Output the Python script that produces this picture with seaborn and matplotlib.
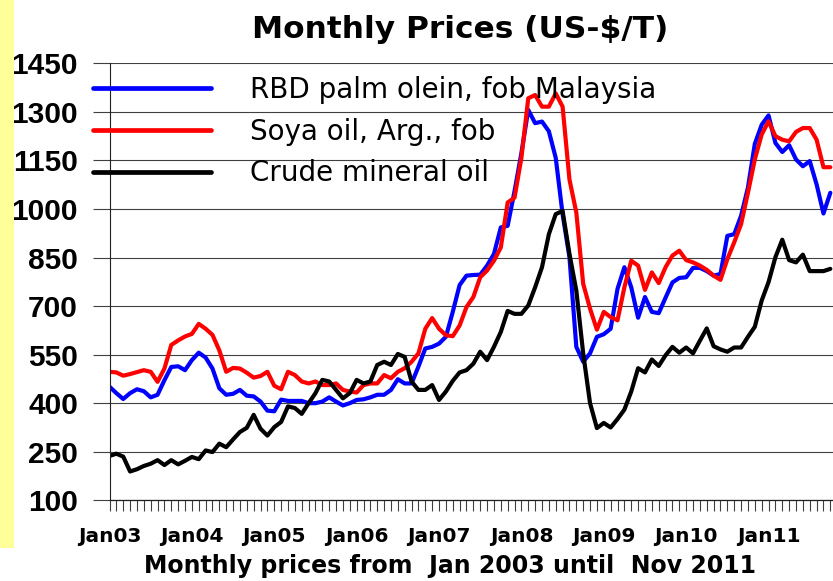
import matplotlib
matplotlib.use("Agg")
import matplotlib.pyplot as plt
import seaborn as sns
import pandas as pd
from matplotlib.patches import Rectangle

# ---- data (monthly, Jan 2003 onward) ----
series_names = ["RBD palm olein, fob Malaysia", "Soya oil, Arg., fob", "Crude mineral oil"]
series_colors = ["#0000FF", "#FF0000", "#000000"]

palm = [451, 431, 413, 431, 443, 437, 418, 426, 471, 512, 514, 502,
        533, 556, 541, 507, 446, 426, 429, 441, 423, 421, 405, 377,
        375, 411, 407, 407, 407, 400, 400, 405, 418, 405, 393, 400,
        410, 412, 418, 426, 426, 441, 474, 461, 461, 513, 569, 574,
        584, 605, 682, 765, 794, 796, 797, 825, 861, 943, 948, 1055,
        1173, 1306, 1265, 1270, 1240, 1158, 984, 851, 574, 528, 554, 605,
        613, 630, 753, 820, 758, 664, 728, 682, 678, 726, 773, 787,
        789, 818, 818, 808, 794, 799, 917, 922, 979, 1066, 1201, 1260,
        1289, 1204, 1176, 1197, 1153, 1132, 1148, 1076, 986, 1050]

soy = [497, 495, 485, 490, 496, 502, 497, 466, 507, 580, 594, 606,
       614, 645, 630, 611, 563, 497, 509, 507, 494, 479, 484, 497,
       454, 443, 497, 487, 467, 461, 467, 456, 456, 461, 441, 436,
       433, 456, 461, 461, 487, 477, 497, 508, 528, 554, 630, 663,
       630, 610, 607, 640, 697, 728, 789, 810, 840, 881, 1020, 1035,
       1158, 1342, 1352, 1316, 1316, 1357, 1316, 1091, 989, 769, 692, 627,
       682, 666, 656, 758, 840, 825, 750, 804, 771, 820, 856, 871,
       842, 835, 825, 812, 794, 781, 845, 897, 953, 1050, 1153, 1230,
       1271, 1225, 1214, 1209, 1238, 1250, 1250, 1214, 1129, 1129]

crude = [237, 244, 235, 189, 196, 206, 213, 224, 209, 224, 211, 222,
         234, 227, 254, 249, 275, 264, 288, 311, 324, 364, 321, 300,
         326, 342, 390, 385, 367, 400, 431, 472, 467, 441, 415, 431,
         472, 461, 467, 518, 528, 518, 552, 543, 467, 441, 441, 456,
         410, 436, 469, 495, 502, 522, 559, 533, 574, 620, 685, 676,
         676, 702, 758, 820, 922, 984, 994, 861, 748, 554, 400, 323,
         339, 325, 351, 380, 436, 508, 495, 535, 515, 548, 574, 556,
         572, 554, 593, 631, 576, 566, 559, 572, 572, 605, 636, 717,
         774, 851, 905, 842, 835, 859, 808, 808, 808, 815]

year_labels = ["Jan03", "Jan04", "Jan05", "Jan06", "Jan07", "Jan08", "Jan09", "Jan10", "Jan11"]
y_ticks = [100, 250, 400, 550, 700, 850, 1000, 1150, 1300, 1450]

title_text = "Monthly Prices (US-$/T)"
xlabel_text = "Monthly prices from  Jan 2003 until  Nov 2011"

# ---- long-form table ----
rows = []
for name, vals in zip(series_names, [palm, soy, crude]):
    for i, v in enumerate(vals):
        rows.append({"month": i, "price": v, "series": name})
df = pd.DataFrame(rows)

sns.set_style("white")
plt.rcParams["font.family"] = ["DejaVu Sans"]
plt.rcParams["text.color"] = "black"
plt.rcParams["axes.labelcolor"] = "black"
plt.rcParams["xtick.color"] = "black"
plt.rcParams["ytick.color"] = "black"

W, H = 833, 581
fig = plt.figure(figsize=(W / 100, H / 100), dpi=100)
fig.patch.set_facecolor("white")

# yellow strip on the left
fig.patches.append(Rectangle((0, 1 - 548 / H), 14 / W, 548 / H,
                             transform=fig.transFigure, facecolor="#FFFF99",
                             edgecolor="none", zorder=0))

left_px, right_px = 109.5, 833
bottom_px, top_px = 500.3, 63.3
ax = fig.add_axes([left_px / W, (H - bottom_px) / H,
                   (right_px - left_px) / W, (bottom_px - top_px) / H])

sns.lineplot(data=df, x="month", y="price", hue="series",
             hue_order=series_names, palette=series_colors,
             linewidth=3.0, estimator=None, ax=ax, legend=False)

px_per_month = 6.865
ax.set_xlim(0, (right_px - left_px) / px_per_month)
ax.set_ylim(100, 1450)

# grid & spines
ax.set_yticks(y_ticks)
ax.yaxis.grid(True, color="#404040", linewidth=0.8)
ax.xaxis.grid(False)
for s in ["top", "right"]:
    ax.spines[s].set_visible(False)
ax.spines["left"].set_color("#202020")
ax.spines["left"].set_linewidth(0.8)
ax.spines["bottom"].set_color("#202020")
ax.spines["bottom"].set_linewidth(0.9)

ax.tick_params(axis="y", left=True, direction="out", length=12.2, width=0.8,
               color="#404040", labelcolor="black", pad=10.5)
for lbl in ax.get_yticklabels():
    lbl.set_fontfamily("Liberation Sans")
    lbl.set_fontweight("bold")
    lbl.set_fontsize(21.5)

n_months = len(palm)
ax.set_xticks([12 * k for k in range(len(year_labels))])
ax.set_xticks(list(range(n_months)), minor=True)
ax.set_xticklabels(year_labels, fontsize=14.5, fontweight="bold")
ax.tick_params(axis="x", which="both", bottom=True, direction="out", length=8,
               width=0.8, color="#404040", labelcolor="black")
ax.tick_params(axis="x", which="major", pad=11)

ax.set_ylabel("")
ax.set_xlabel(xlabel_text, fontsize=17, fontweight="bold", color="black")
ax.xaxis.set_label_coords((450 - left_px) / (right_px - left_px),
                          (bottom_px - 573) / (bottom_px - top_px))
ax.xaxis.label.set_verticalalignment("baseline")

# title
fig.text(460 / W, (H - 38) / H, title_text, ha="center", va="baseline",
         fontsize=22.5, fontweight="bold", color="black")

# legend
handles = ax.get_lines()[:3]
leg = ax.legend(handles, series_names, loc="upper left",
                bbox_to_anchor=(93 / W, (H - 76) / H),
                bbox_transform=fig.transFigure, frameon=False,
                fontsize=20, handlelength=4.25, handletextpad=1.4,
                labelspacing=0.49, borderpad=0, borderaxespad=0)
for txt in leg.get_texts():
    txt.set_color("black")
for lh in leg.get_lines():
    lh.set_linewidth(3.4)

fig.savefig("out.png", dpi=100, facecolor="white")
